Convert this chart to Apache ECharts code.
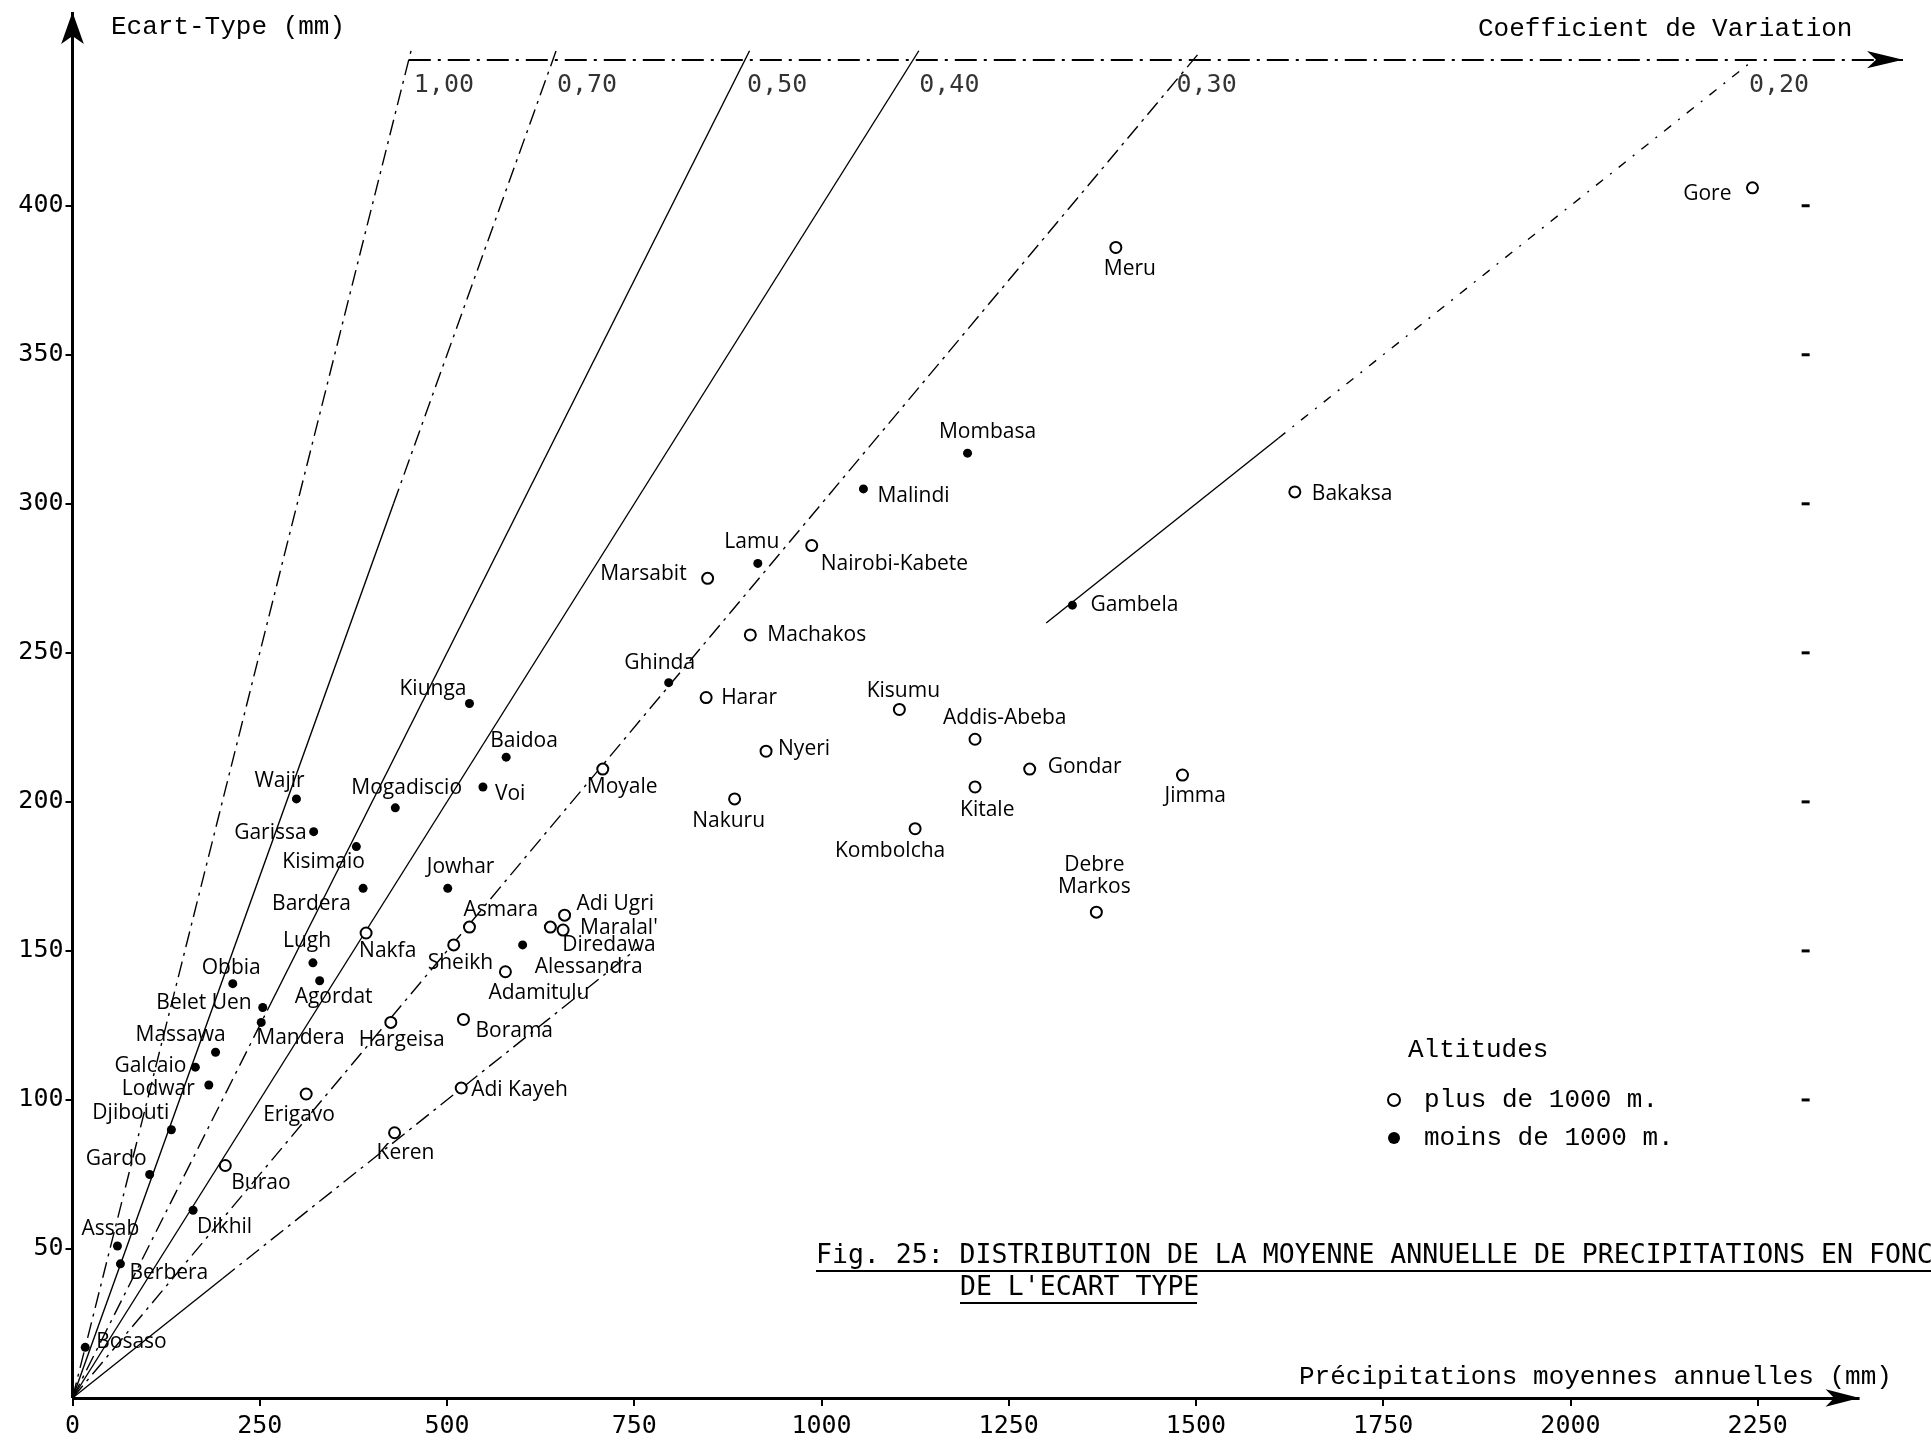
<!DOCTYPE html>
<html><head><meta charset="utf-8">
<script src="https://cdn.jsdelivr.net/npm/echarts@6/dist/echarts.min.js"></script>
<style>html,body{margin:0;padding:0;background:#fff}#c{width:1931px;height:1443px}</style>
</head><body><div id="c"></div>
<script>
// ---------- DATA ----------
// Stations above 1000 m (open circles): mean annual precipitation (mm), standard deviation (mm)
const highNames  = ['Gore','Meru','Bakaksa','Nairobi-Kabete','Marsabit','Machakos','Harar','Kisumu','Addis-Abeba','Nyeri','Gondar','Moyale','Jimma','Kitale','Nakuru','Kombolcha','Debre Markos','Adi Ugri','Asmara','Diredawa',"Maralal'",'Nakfa','Sheikh','Adamitulu','Borama','Hargeisa','Adi Kayeh','Erigavo','Keren','Burao'];
const highPrecip = [2243,1393,1632,987,848,905,846,1104,1205,926,1278,708,1482,1205,884,1125,1367,657,530,638,655,392,509,578,522,425,519,312,430,204];
const highStd    = [406,386,304,286,275,256,235,231,221,217,211,211,209,205,201,191,163,162,158,158,157,156,152,143,127,126,104,102,89,78];
// Stations below 1000 m (filled dots)
const lowNames  = ['Mombasa','Malindi','Lamu','Gambela','Ghinda','Kiunga','Baidoa','Voi','Wajir','Mogadiscio','Garissa','Kisimaio','Bardera','Jowhar','Alessandra','Lugh','Agordat','Obbia','Belet Uen','Mandera','Massawa','Galcaio','Lodwar','Djibouti','Gardo','Dikhil','Assab','Berbera','Bosaso'];
const lowPrecip = [1195,1056,915,1335,796,530,579,548,299,431,322,379,388,501,601,321,330,214,254,252,191,164,182,132,103,161,60,64,17];
const lowStd    = [317,305,280,266,240,233,215,205,201,198,190,185,171,171,152,146,140,139,131,126,116,111,105,90,75,63,51,45,17];
// Coefficient of variation reference lines
const cvValues = [1.00,0.70,0.50,0.40,0.30,0.20];
const cvLabels = ['1,00','0,70','0,50','0,40','0,30','0,20'];
// Tick labels
const xTicks = [0,250,500,750,1000,1250,1500,1750,2000,2250];
const yTicks = [50,100,150,200,250,300,350,400];

// ---------- LAYOUT / STYLE ----------
const X_MAX = 2450, Y_MAX = 465;
const CV_AXIS_Y = 449, CV_AXIS_END = 2444, X_AXIS_END = 2386, RIGHT_TICK_X = 2314;
const DASHDOT = [16,6,3,6], SPARSE = [9,9,2,9];
// segments per CV line: [yFrom, yTo, type]
const cvSegments = [
  [[0,452,DASHDOT]],
  [[0,300,'solid'],[300,452,DASHDOT]],
  [[0,130,DASHDOT],[130,452,'solid']],
  [[0,452,'solid']],
  [[0,452,DASHDOT]],
  [[0,40,'solid'],[40,151,DASHDOT],[260,322,'solid'],[322,449,SPARSE]]
];
const cvLabelDx = [5,4,2,6,-17,-5];
// label placement per station: [align, dx, dy] in px from the marker centre
const lab = {
 'Gore':['right',-21,6],'Meru':['center',14,22],'Bakaksa':['left',17,2],'Nairobi-Kabete':['left',9,18],
 'Marsabit':['right',-21,-4],'Machakos':['left',17,0],'Harar':['left',15,0],'Kisumu':['center',4,-18],
 'Addis-Abeba':['left',-32,-21],'Nyeri':['left',12,-2],'Gondar':['left',18,-2],'Moyale':['left',-16,18],
 'Jimma':['left',-18,21],'Kitale':['left',-15,23],'Nakuru':['center',-6,22],'Kombolcha':['center',-25,22],
 'Debre Markos':['center',-2,-36],'Adi Ugri':['left',12,-11],'Asmara':['left',-6,-17],'Diredawa':['left',12,18],
 "Maralal'":['left',17,-2],'Nakfa':['left',-7,18],'Sheikh':['left',-26,18],'Adamitulu':['left',-17,21],
 'Borama':['left',12,12],'Hargeisa':['left',-32,18],'Adi Kayeh':['left',10,2],'Erigavo':['left',-43,21],
 'Keren':['left',-18,20],'Burao':['left',6,18],
 'Mombasa':['center',20,-21],'Malindi':['left',14,7],'Lamu':['center',-6,-21],'Gambela':['left',18,0],
 'Ghinda':['center',-9,-20],'Kiunga':['right',-3,-14],'Baidoa':['left',-16,-16],'Voi':['left',12,7],
 'Wajir':['left',-42,-18],'Mogadiscio':['left',-44,-20],'Garissa':['right',-7,1],'Kisimaio':['left',-74,15],
 'Bardera':['left',-91,16],'Jowhar':['left',-21,-21],'Alessandra':['left',12,22],'Lugh':['left',-30,-22],
 'Agordat':['left',-25,16],'Obbia':['left',-31,-16],'Belet Uen':['right',-11,-5],'Mandera':['left',-5,16],
 'Massawa':['left',-80,-17],'Galcaio':['right',-9,-1],'Lodwar':['right',-14,4],'Djibouti':['left',-79,-17],
 'Gardo':['left',-64,-15],'Dikhil':['left',4,17],'Assab':['left',-36,-17],'Berbera':['left',9,9],'Bosaso':['left',11,-5]
};
const HAND = '"Open Sans", "Noto Sans", sans-serif';
const MONO = '"Liberation Mono", "DejaVu Sans Mono", monospace';
const PLOT = '"DejaVu Sans Mono", monospace';

function pts(names, xs, ys){
  return names.map((n,i)=>{
    const L = lab[n] || ['left',10,0];
    return {name:n, value:[xs[i],ys[i]], label:{
      formatter: n==='Debre Markos' ? 'Debre\nMarkos' : n,
      align:L[0], offset:[L[1],L[2]]}};
  });
}
const stationLabel = {show:true, position:'inside', verticalAlign:'middle', color:'#000', opacity:1,
  fontFamily:HAND, fontSize:21, lineHeight:22, textBorderWidth:0, textBorderColor:'transparent'};

const series = [];
cvValues.forEach((cv,i)=>{
  cvSegments[i].forEach(seg=>{
    series.push({type:'line', silent:true, clip:false, symbol:'none', animation:false, z:1,
      data:[[seg[0]/cv, seg[0]],[seg[1]/cv, seg[1]]],
      lineStyle:{color:'#000', width:1.4, type:seg[2]}});
  });
});
series.push({type:'scatter', silent:true, symbolSize:0, clip:false, z:3,
  data: cvValues.map((cv,i)=>({value:[CV_AXIS_Y/cv, CV_AXIS_Y], label:{formatter:cvLabels[i], offset:[cvLabelDx[i],26]}})),
  label:{show:true, position:'inside', align:'left', verticalAlign:'middle', color:'#000', fontFamily:PLOT, fontSize:25, textBorderWidth:0}
});
series.push({name:'plus de 1000 m.', type:'scatter', symbol:'emptyCircle', symbolSize:11, z:5,
  itemStyle:{color:'#000', borderColor:'#000', borderWidth:1.9, opacity:1},
  label:stationLabel, data:pts(highNames, highPrecip, highStd)});
series.push({name:'moins de 1000 m.', type:'scatter', symbol:'circle', symbolSize:9, z:5,
  itemStyle:{color:'#000', opacity:1},
  label:stationLabel, data:pts(lowNames, lowPrecip, lowStd)});
// right-side small ticks
series.push({type:'scatter', silent:true, symbol:'rect', symbolSize:[8,3], itemStyle:{color:'#000', opacity:1},
  data: yTicks.filter(v=>v>=100).map(v=>[RIGHT_TICK_X, v])});
// axes drawn as marked lines with arrows
function axisLine(from, to, width, type, arrowSize){
  return {type:'line', silent:true, clip:false, data:[], z:4, animation:false,
    markLine:{silent:true, animation:false, symbol:['none','arrow'], symbolSize:arrowSize, label:{show:false},
      emphasis:{disabled:true},
      lineStyle:{color:'#000', width:width, type:type, opacity:1},
      data:[[{coord:from},{coord:to}]]}};
}
series.push(axisLine([0,0],[X_AXIS_END,0],3,'solid',[13,34]));
series.push(axisLine([0,0],[0,Y_MAX],3,'solid',[17,32]));
series.push(axisLine([CV_AXIS_Y/1.0, CV_AXIS_Y],[CV_AXIS_END, CV_AXIS_Y],2,[22,7,3,7],[13,36]));

const chart = echarts.init(document.getElementById('c'), null, {renderer:'canvas'});
chart.setOption({
  animation:false,
  backgroundColor:'#fff',
  grid:{left:72.5, right:23.5, top:12, bottom:45},
  xAxis:{type:'value', min:0, max:X_MAX, splitLine:{show:false},
    axisLine:{show:false},
    axisTick:{show:true, customValues:xTicks, length:8, lineStyle:{color:'#000', width:2}},
    axisLabel:{customValues:xTicks, formatter:v=>String(v), color:'#000', fontFamily:PLOT, fontSize:25, margin:16}},
  yAxis:{type:'value', min:0, max:Y_MAX, splitLine:{show:false},
    axisLine:{show:false},
    axisTick:{show:true, customValues:yTicks, length:7, lineStyle:{color:'#000', width:2}},
    axisLabel:{customValues:yTicks, formatter:v=>String(v), color:'#000', fontFamily:PLOT, fontSize:25, margin:9}},
  legend:{data:['plus de 1000 m.','moins de 1000 m.'], orient:'vertical', left:1382, top:1080,
    itemWidth:26, itemHeight:12, itemGap:8, selectedMode:false,
    textStyle:{fontFamily:MONO, fontSize:26, color:'#000', lineHeight:30, padding:[0,0,0,12]}},
  graphic:[
    {type:'text', x:111, y:27, style:{text:'Ecart-Type (mm)', fontFamily:MONO, fontSize:26, fill:'#000', verticalAlign:'middle'}},
    {type:'text', x:1478, y:29, style:{text:'Coefficient de Variation', fontFamily:MONO, fontSize:26, fill:'#000', verticalAlign:'middle'}},
    {type:'text', x:1299, y:1377, style:{text:'Précipitations moyennes annuelles (mm)', fontFamily:MONO, fontSize:26, fill:'#000', verticalAlign:'middle'}},
    {type:'text', x:1408, y:1050, style:{text:'Altitudes', fontFamily:MONO, fontSize:26, fill:'#000', verticalAlign:'middle'}},
    {type:'text', x:816, y:1256, style:{text:'Fig. 25: DISTRIBUTION DE LA MOYENNE ANNUELLE DE PRECIPITATIONS EN FONCTION', fontFamily:PLOT, fontSize:26.5, fill:'#000', verticalAlign:'middle'}},
    {type:'text', x:960, y:1288, style:{text:"DE L'ECART TYPE", fontFamily:PLOT, fontSize:26.5, fill:'#000', verticalAlign:'middle'}},
    {type:'line', shape:{x1:816, y1:1271, x2:1931, y2:1271}, style:{stroke:'#000', lineWidth:2}},
    {type:'line', shape:{x1:960, y1:1303, x2:1197, y2:1303}, style:{stroke:'#000', lineWidth:2}}
  ],
  series:series
});
</script></body></html>
